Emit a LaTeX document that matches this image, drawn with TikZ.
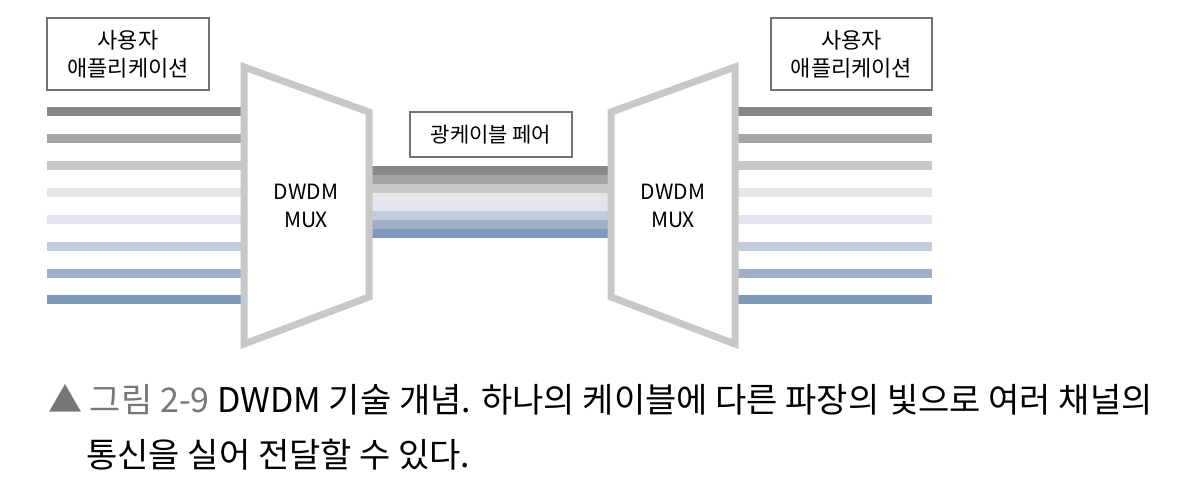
\documentclass[tikz,border=0pt]{standalone}
\usepackage{fontspec}
\setmainfont{Noto Sans CJK KR}
\begin{document}
\begin{tikzpicture}[x=0.5pt,y=-0.5pt,
  lbl/.style={draw=black!55,line width=0.6pt,fill=white,font=\fontsize{11}{14}\selectfont,align=center,inner sep=0pt},
  mux/.style={draw=muxgray,line width=3.5pt,fill=white,line join=miter},
  muxtxt/.style={font=\fontsize{10.5}{14}\selectfont,align=center,inner sep=0pt},
  chan/.style={line width=4.5pt},
  band/.style={line width=4.6pt}]
\definecolor{muxgray}{HTML}{C8C8C8}
\definecolor{c1}{HTML}{888888}
\definecolor{c2}{HTML}{A5A5A5}
\definecolor{c3}{HTML}{C8C8C8}
\definecolor{c4}{HTML}{E6E6E6}
\definecolor{c5}{HTML}{E1E5EF}
\definecolor{c6}{HTML}{C3CBDC}
\definecolor{c7}{HTML}{A0AEC8}
\definecolor{c8}{HTML}{7F99BC}
\definecolor{capgray}{HTML}{777777}
\useasboundingbox (0,0) rectangle (1196,494);
\fill[white] (0,0) rectangle (1196,494);
% channel lines
\foreach \i/\y in {1/111.5,2/138.5,3/165.5,4/192.5,5/219.5,6/246.5,7/273.5,8/299.5}{
  \coordinate (la\i) at (47,\y);
  \coordinate (lb\i) at (250,\y);
  \coordinate (ra\i) at (730,\y);
  \coordinate (rb\i) at (932,\y);
  \draw[chan,draw=c\i] (la\i) -- (lb\i);
  \draw[chan,draw=c\i] (ra\i) -- (rb\i);
}
% fibre bundle
\foreach \i in {1,...,8}{
  \coordinate (fa\i) at (365,{166+9*(\i-1)+4.5});
  \coordinate (fb\i) at (615,{166+9*(\i-1)+4.5});
  \draw[band,draw=c\i] (fa\i) -- (fb\i);
}
% multiplexers
\draw[mux] (244,67) -- (369,112) -- (369,297) -- (244,344) -- cycle;
\draw[mux] (735,67) -- (611,112) -- (611,297) -- (735,344) -- cycle;
\node[muxtxt] (muxL) at (306,206) {DWDM\\MUX};
\node[muxtxt] (muxR) at (673,206) {DWDM\\MUX};
% labels
\node[lbl,minimum width=81pt,minimum height=36pt] (appL) at (128,54) {사용자\\애플리케이션};
\node[lbl,minimum width=80.5pt,minimum height=36pt] (appR) at (851.5,54) {사용자\\애플리케이션};
\node[lbl,minimum width=81pt,minimum height=22.5pt,font=\fontsize{10.5}{14}\selectfont] (cable) at (491,134.5) {광케이블 페어};
% caption
\node[anchor=west,inner sep=0pt,font=\fontsize{17}{20}\selectfont] (cap1) at (48,400)
  {\textcolor{capgray}{▲ 그림 2-9} DWDM 기술 개념. 하나의 케이블에 다른 파장의 빛으로 여러 채널의};
\node[anchor=west,inner sep=0pt,font=\fontsize{17}{20}\selectfont] (cap2) at (86,455)
  {통신을 실어 전달할 수 있다.};
\end{tikzpicture}
\end{document}
